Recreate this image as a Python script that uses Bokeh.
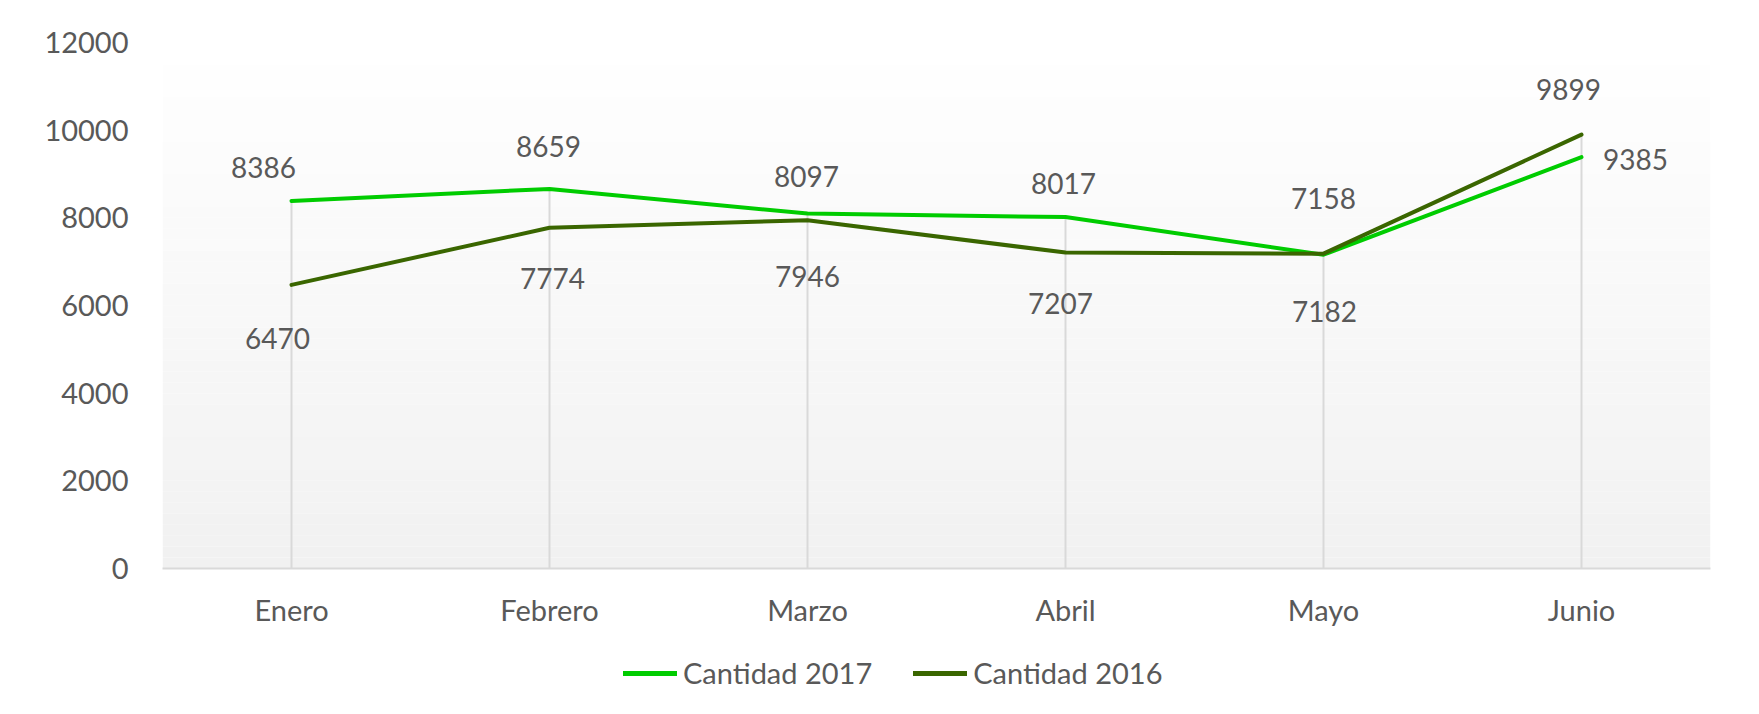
from bokeh.plotting import figure, ColumnDataSource
from bokeh.models import (FactorRange, Range1d, SingleIntervalTicker, LabelSet,
                          Legend, LegendItem, BoxAnnotation)
from bokeh.layouts import column
from bokeh.core.properties import value
from bokeh.embed import file_html
from bokeh.resources import INLINE

# ---- data ----
months = ["Enero", "Febrero", "Marzo", "Abril", "Mayo", "Junio"]
cantidad_2017 = [8386, 8659, 8097, 8017, 7158, 9385]
cantidad_2016 = [6470, 7774, 7946, 7207, 7182, 9899]
series_names = ["Cantidad 2017", "Cantidad 2016"]
y_ticks_step = 2000
y_max = 12000

# ---- style ----
FONT = "Lato"
TXT = "#595959"
C17 = "#00cc00"
C16 = "#3a6600"
GRID = "#d9d9d9"

# label offsets (screen px, up positive)
off17_x = [-28, -1, -1, -2, 0, 54]
off17_y = [33, 42, 37, 34, 56, -2]
off16_x = [-14, 3, 0, -5, 1, -13]
off16_y = [-54, -51, -56, -51, -58, 45]

p = figure(width=1759, height=630, x_range=FactorRange(*months),
           y_range=Range1d(0, y_max), output_backend="svg",
           toolbar_location=None, min_border_left=162, min_border_right=49,
           min_border_top=42, min_border_bottom=62)
p.outline_line_color = None
p.background_fill_color = "white"
p.border_fill_color = "white"
p.xgrid.visible = False
p.ygrid.visible = False

# gradient background of the plot area
nb = 48
for i in range(nb):
    t = (i + 0.5) / nb  # 0 bottom -> 1 top
    c = int(round(0xf1 + (0xff - 0xf1) * t))
    col = "#%02x%02x%02x" % (c, c, c)
    p.add_layout(BoxAnnotation(bottom=y_max * i / nb, top=y_max * (i + 1) / nb,
                               fill_color=col, fill_alpha=1.0, line_alpha=0,
                               level="underlay"))

src = ColumnDataSource(dict(m=months, v17=cantidad_2017, v16=cantidad_2016,
                            top=[max(a, b) for a, b in zip(cantidad_2017, cantidad_2016)],
                            zero=[0] * len(months),
                            l17=[str(v) for v in cantidad_2017],
                            l16=[str(v) for v in cantidad_2016],
                            ox17=off17_x, oy17=off17_y, ox16=off16_x, oy16=off16_y))
# drop lines
p.segment(x0="m", y0="zero", x1="m", y1="top", source=src, line_color=GRID, line_width=2)

p.line("m", "v17", source=src, line_color=C17, line_width=4,
       line_cap="round", line_join="round")
p.line("m", "v16", source=src, line_color=C16, line_width=4,
       line_cap="round", line_join="round")

for lab, yf, ox, oy in (("l17", "v17", "ox17", "oy17"), ("l16", "v16", "ox16", "oy16")):
    p.add_layout(LabelSet(x="m", y=yf, text=lab,
                          x_offset=ox, y_offset=oy, source=src,
                          text_align="center", text_baseline="middle",
                          text_font=value(FONT), text_font_size="28px",
                          text_color=TXT))

# axes
p.yaxis.ticker = SingleIntervalTicker(interval=y_ticks_step)
p.yaxis.axis_line_color = None
p.yaxis.major_tick_line_color = None
p.yaxis.minor_tick_line_color = None
p.yaxis.major_tick_out = 0
p.yaxis.major_tick_in = 0
p.yaxis.major_label_standoff = 30
p.yaxis.major_label_text_font = FONT
p.yaxis.major_label_text_font_size = "29px"
p.yaxis.major_label_text_color = TXT

p.xaxis.axis_line_color = GRID
p.xaxis.axis_line_width = 2
p.xaxis.major_tick_line_color = None
p.xaxis.minor_tick_line_color = None
p.xaxis.major_tick_out = 0
p.xaxis.major_tick_in = 0
p.xaxis.major_label_standoff = 23
p.xaxis.major_label_text_font = FONT
p.xaxis.major_label_text_font_size = "29px"
p.xaxis.major_label_text_color = TXT

# ---- legend strip below the chart ----
lg = figure(width=1759, height=84, x_range=Range1d(0, 1), y_range=Range1d(0, 1),
            output_backend="svg", toolbar_location=None,
            x_axis_type=None, y_axis_type=None,
            min_border_left=0, min_border_right=0, min_border_top=0, min_border_bottom=0)
lg.outline_line_color = None
lg.xgrid.visible = False
lg.ygrid.visible = False
# proxy renderers (kept outside the visible range) that carry the legend styles
lr17 = lg.line(x=[5, 6], y=[5, 6], line_color=C17, line_width=5, line_cap="round")
lr16 = lg.line(x=[5, 6], y=[5, 6], line_color=C16, line_width=5, line_cap="round")
legend = Legend(items=[LegendItem(label=series_names[0], renderers=[lr17]),
                       LegendItem(label=series_names[1], renderers=[lr16])],
                orientation="horizontal", location=(461, 24),
                glyph_width=54, glyph_height=34, label_height=34,
                label_standoff=6, spacing=41, padding=0, margin=0,
                label_text_font=FONT, label_text_font_size="29px",
                label_text_color=TXT, border_line_color=None,
                background_fill_alpha=0)
lg.add_layout(legend, "center")

layout = column(p, lg, spacing=0)
open("out.html", "w").write(file_html(layout, INLINE))
